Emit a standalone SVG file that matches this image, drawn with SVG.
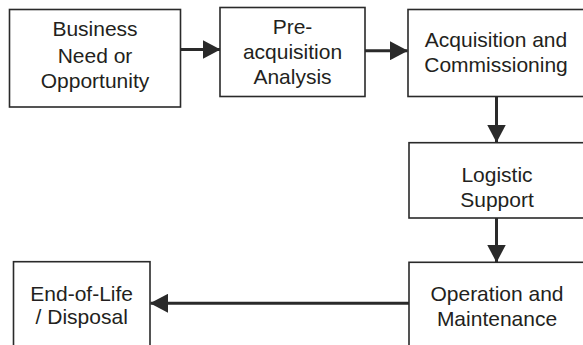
<svg xmlns="http://www.w3.org/2000/svg" width="583" height="345" viewBox="0 0 583 345">
<style>
.box{fill:#fff;stroke:#2a2a2a;stroke-width:1.6}
.lbl{font-family:"Liberation Sans",Arial,Helvetica,sans-serif;font-size:21px;fill:#231f20;text-anchor:middle}
.conn{stroke:#2a2a2a;stroke-width:3;fill:none}
</style>
<defs>
<marker id="ah" markerUnits="userSpaceOnUse" markerWidth="18" markerHeight="19" refX="17.5" refY="9.5" orient="auto" viewBox="0 0 18 19">
<path d="M0,0 L18,9.5 L0,19 z" fill="#2a2a2a"/>
</marker>
</defs>
<rect width="583" height="345" fill="#fff"/>
<g id="connectors">
<path class="conn" d="M180.5,49.5 L220,49.5" marker-end="url(#ah)"/>
<path class="conn" d="M365,50.7 L407.5,50.7" marker-end="url(#ah)"/>
<path class="conn" d="M496.5,97 L496.5,142" marker-end="url(#ah)"/>
<path class="conn" d="M496.5,218 L496.5,262" marker-end="url(#ah)"/>
<path class="conn" d="M409,303.3 L150.5,303.3" marker-end="url(#ah)"/>
</g>
<g id="business-need">
<rect class="box" x="9.5" y="9.5" width="171" height="97.5"/>
<text class="lbl" x="95" y="36">Business</text>
<text class="lbl" x="95" y="62.5">Need or</text>
<text class="lbl" x="95" y="87.5">Opportunity</text>
</g>
<g id="pre-acquisition">
<rect class="box" x="220" y="7.5" width="145" height="89"/>
<text class="lbl" x="292.5" y="33.5">Pre-</text>
<text class="lbl" x="292.5" y="59">acquisition</text>
<text class="lbl" x="292.5" y="84">Analysis</text>
</g>
<g id="acquisition">
<rect class="box" x="408" y="9.5" width="180" height="87"/>
<text class="lbl" x="496" y="47.3">Acquisition and</text>
<text class="lbl" x="496" y="71.8">Commissioning</text>
</g>
<g id="logistic">
<rect class="box" x="409" y="142.7" width="180" height="75.3"/>
<text class="lbl" x="497" y="182">Logistic</text>
<text class="lbl" x="497" y="206.5">Support</text>
</g>
<g id="operation">
<rect class="box" x="409" y="262.3" width="180" height="100"/>
<text class="lbl" x="497" y="301">Operation and</text>
<text class="lbl" x="497" y="325.5">Maintenance</text>
</g>
<g id="end-of-life">
<rect class="box" x="13.5" y="261.7" width="136.5" height="100"/>
<text class="lbl" x="81.7" y="300.5">End-of-Life</text>
<text class="lbl" x="81.7" y="324">/ Disposal</text>
</g>
</svg>
